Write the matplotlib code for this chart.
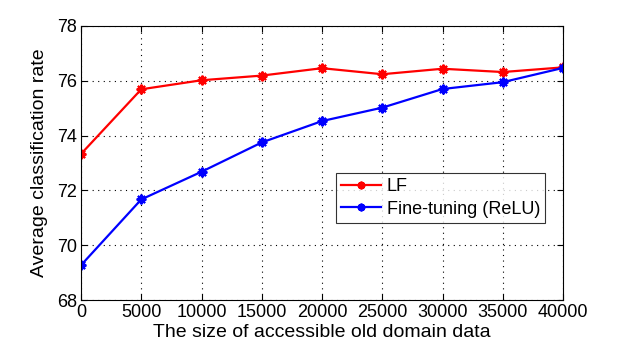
import matplotlib
matplotlib.use("Agg")
import matplotlib.pyplot as plt

x_sizes = [0, 5000, 10000, 15000, 20000, 25000, 30000, 35000, 40000]
lf_values = [73.33, 75.69, 76.02, 76.19, 76.46, 76.24, 76.44, 76.32, 76.49]
ft_values = [69.27, 71.67, 72.68, 73.75, 74.53, 75.02, 75.70, 75.95, 76.47]
x_ticks = [0, 5000, 10000, 15000, 20000, 25000, 30000, 35000, 40000]
y_ticks = [68, 70, 72, 74, 76, 78]

plt.rcParams['font.family'] = ['Liberation Sans', 'DejaVu Sans']

fig = plt.figure(figsize=(6.21, 3.5), dpi=100)
ax = fig.add_axes([81/621, 1-300/350, (563-81)/621, (300-26)/350])

ax.plot(x_sizes, lf_values, color='#ff0000', lw=1.6, marker=(8, 2, 0), ms=7, mew=1.5, label='LF')
ax.plot(x_sizes, ft_values, color='#0000ff', lw=1.6, marker=(8, 2, 0), ms=7, mew=1.5, label='Fine-tuning (ReLU)')

ax.set_xlim(0, 40000)
ax.set_ylim(68, 78)
ax.set_xticks(x_ticks)
ax.set_xticklabels([str(v) for v in x_ticks])
ax.set_yticks(y_ticks)
ax.tick_params(direction='in', length=4, labelsize=13, top=True, right=True, pad=3)
ax.grid(True, linestyle=(0, (1, 4)), color='black', lw=0.8)
for s in ax.spines.values():
    s.set_linewidth(0.8)

ax.set_xlabel('The size of accessible old domain data', fontsize=14, labelpad=2)
ax.set_ylabel('Average classification rate', fontsize=14, labelpad=6)

leg = ax.legend(loc='upper left', bbox_to_anchor=((336-81)/482, 1-(172.7-26)/274),
                fontsize=13, frameon=True, fancybox=False, edgecolor='black',
                borderaxespad=0, handlelength=2.2, borderpad=0.3, labelspacing=0.3,
                handletextpad=0.3, markerscale=0.8)
leg.get_frame().set_linewidth(0.8)

fig.savefig('out.png', dpi=100)
